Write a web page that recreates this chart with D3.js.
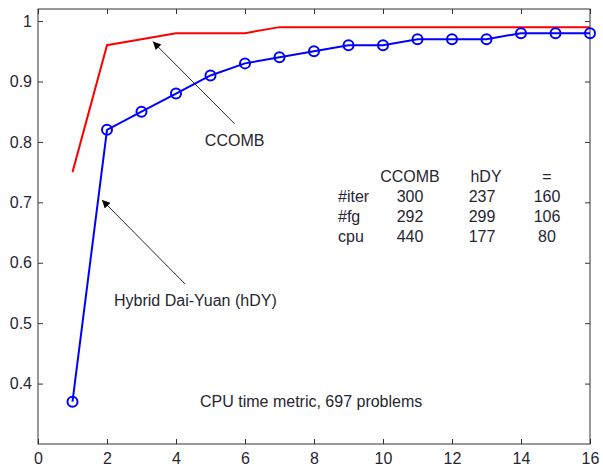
<!DOCTYPE html>
<html>
<head>
<meta charset="utf-8">
<script src="https://cdn.jsdelivr.net/npm/d3@7.9.0/dist/d3.min.js"></script>
<style>
  body { margin: 0; background: #fff; }
  svg text { font-family: "Liberation Sans", Arial, sans-serif; fill: #262630; }
</style>
</head>
<body>
<div id="chart"></div>
<script>
// ─── data ───────────────────────────────
const xs = [1, 2, 3, 4, 5, 6, 7, 8, 9, 10, 11, 12, 13, 14, 15, 16];
const ccomb = [0.75, 0.96, 0.97, 0.98, 0.98, 0.98, 0.99, 0.99, 0.99, 0.99, 0.99, 0.99, 0.99, 0.99, 0.99, 0.99];
const hdy   = [0.37, 0.82, 0.85, 0.88, 0.91, 0.93, 0.94, 0.95, 0.96, 0.96, 0.97, 0.97, 0.97, 0.98, 0.98, 0.98];
const xTicks = [0, 2, 4, 6, 8, 10, 12, 14, 16];
const yTicks = [0.4, 0.5, 0.6, 0.7, 0.8, 0.9, 1];

const tableHeader = ['CCOMB', 'hDY', '='];
const tableRows = ['#iter', '#fg', 'cpu'];
const tableValues = [
  [300, 237, 160],
  [292, 299, 106],
  [440, 177, 80]
];
const title = 'CPU time metric, 697 problems';

// ─── layout ─────────────────────────────
const W = 603, H = 466;
const plot = { left: 38, right: 590, top: 9, bottom: 444 };
const fs = '16px';

const svg = d3.select('#chart').append('svg')
  .attr('width', W).attr('height', H);

const x = d3.scaleLinear().domain([0, 16]).range([plot.left, plot.right]);
const y = d3.scaleLinear().domain([0.3, 1.02]).range([plot.bottom, plot.top]);

svg.append('defs').append('marker')
  .attr('id', 'arrow')
  .attr('viewBox', '0 0 10 10')
  .attr('refX', 10).attr('refY', 5)
  .attr('markerWidth', 13).attr('markerHeight', 8)
  .attr('markerUnits', 'userSpaceOnUse')
  .attr('orient', 'auto')
  .append('path').attr('d', 'M0,0 L10,5 L0,10 z').attr('fill', '#000');

// ─── axes (MATLAB style box, inward ticks) ─
const tl = 5;
const axisCol = '#333';
svg.append('rect')
  .attr('x', plot.left).attr('y', plot.top)
  .attr('width', plot.right - plot.left).attr('height', plot.bottom - plot.top)
  .attr('fill', 'none').attr('stroke', axisCol).attr('stroke-width', 1);

const xAxis = svg.append('g').attr('transform', `translate(0,${plot.bottom})`)
  .call(d3.axisBottom(x).tickValues(xTicks).tickSize(-tl).tickPadding(9).tickFormat(d3.format('d')));
const xAxisTop = svg.append('g').attr('transform', `translate(0,${plot.top})`)
  .call(d3.axisTop(x).tickValues(xTicks).tickSize(-tl).tickFormat(''));
const yAxis = svg.append('g').attr('transform', `translate(${plot.left},0)`)
  .call(d3.axisLeft(y).tickValues(yTicks).tickSize(-tl).tickPadding(6).tickFormat(d => d === 1 ? '1' : d3.format('.1f')(d)));
const yAxisR = svg.append('g').attr('transform', `translate(${plot.right},0)`)
  .call(d3.axisRight(y).tickValues(yTicks).tickSize(-tl).tickFormat(''));

[xAxis, xAxisTop, yAxis, yAxisR].forEach(g => {
  g.select('.domain').remove();
  g.selectAll('line').attr('stroke', axisCol);
  g.selectAll('text').style('font-size', fs).attr('fill', '#262630');
});

// ─── lines ──────────────────────────────
const line = d3.line().x(d => x(d[0])).y(d => y(d[1]));

svg.append('path')
  .datum(xs.map((v, i) => [v, ccomb[i]]))
  .attr('d', line)
  .attr('fill', 'none').attr('stroke', '#ff0000').attr('stroke-width', 2);

const hdyPts = xs.map((v, i) => [v, hdy[i]]);
svg.append('path')
  .datum(hdyPts)
  .attr('d', line)
  .attr('fill', 'none').attr('stroke', '#0000ff').attr('stroke-width', 2);

svg.selectAll('circle.hdy')
  .data(hdyPts)
  .join('circle')
    .attr('class', 'hdy')
    .attr('cx', d => x(d[0]))
    .attr('cy', d => y(d[1]))
    .attr('r', 5)
    .attr('fill', 'none')
    .attr('stroke', '#0000ff')
    .attr('stroke-width', 2);

// ─── annotations ────────────────────────
function arrow(x1, y1, x2, y2) {
  svg.append('line')
    .attr('x1', x1).attr('y1', y1).attr('x2', x2).attr('y2', y2)
    .attr('stroke', '#111').attr('stroke-width', 0.9)
    .attr('marker-end', 'url(#arrow)');
}
// CCOMB arrow points just under the red curve near x=3.3
arrow(x(5.7), y(0.83), x(3.33), y(0.966));
svg.append('text').attr('x', x(5.7)).attr('y', 146)
  .attr('text-anchor', 'middle').style('font-size', fs).text('CCOMB');

// hDY arrow points at the blue curve near x=1.85
arrow(x(4.26), y(0.565), x(1.855), y(0.704));
svg.append('text').attr('x', 114).attr('y', 306)
  .style('font-size', fs).text('Hybrid Dai-Yuan (hDY)');

svg.append('text').attr('x', 200).attr('y', 407)
  .style('font-size', fs).text(title);

// ─── stats table ────────────────────────
const colX = [410, 486, 547];
const rowY0 = 182, rowStep = 20;
tableHeader.forEach((h, j) => {
  svg.append('text').attr('x', colX[j]).attr('y', rowY0)
    .attr('text-anchor', 'middle').style('font-size', fs).text(h);
});
tableRows.forEach((r, i) => {
  const yy = rowY0 + rowStep * (i + 1);
  svg.append('text').attr('x', 338).attr('y', yy).style('font-size', fs).text(r);
  tableValues[i].forEach((v, j) => {
    svg.append('text').attr('x', colX[j] + (j === 1 ? -4 : 0)).attr('y', yy)
      .attr('text-anchor', 'middle').style('font-size', fs).text(v);
  });
});
</script>
</body>
</html>
